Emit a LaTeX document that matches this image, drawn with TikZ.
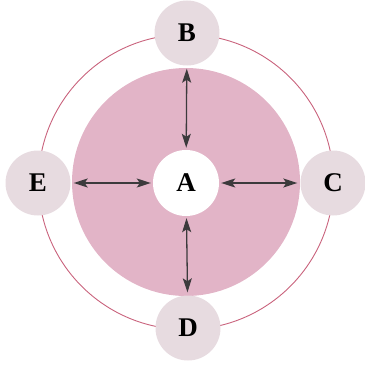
\documentclass[tikz,border=0pt]{standalone}
\usepackage{fontspec}
\setmainfont{Liberation Serif}
\usetikzlibrary{arrows.meta}
\definecolor{diskpink}{HTML}{E2B4C7}
\definecolor{satgray}{HTML}{E7DBE0}
\definecolor{ringred}{HTML}{C9627C}
\definecolor{arrgray}{HTML}{3C3A3C}
\tikzset{
  sat/.style={circle, fill=satgray, minimum size=65pt, inner sep=0pt, font=\fontsize{27}{30}\selectfont\bfseries},
  hub/.style={circle, fill=white, minimum size=66pt, inner sep=0pt, font=\fontsize{27}{30}\selectfont\bfseries},
  arr/.style={draw=arrgray, line width=1.3pt, {Stealth[length=14pt,width=9pt,inset=3pt]}-{Stealth[length=14pt,width=9pt,inset=3pt]}, shorten >=3pt, shorten <=2pt}
}
\begin{document}
\begin{tikzpicture}[x=1pt, y=-1pt]
\useasboundingbox (0,0) rectangle (364,369);
\coordinate (O) at (186,182);
\fill[diskpink] (O) circle (114);
\draw[ringred, line width=0.9pt] (O) circle (147.5);
\node[hub] (A) at (186,183) {A};
\node[sat] (B) at (187,33) {B};
\node[sat] (C) at (333,183) {C};
\node[sat] (D) at (188,328) {D};
\node[sat] (E) at (38,183) {E};
\draw[arr] (A) -- (B);
\draw[arr] (A) -- (C);
\draw[arr] (A) -- (D);
\draw[arr] (A) -- (E);
\end{tikzpicture}
\end{document}
